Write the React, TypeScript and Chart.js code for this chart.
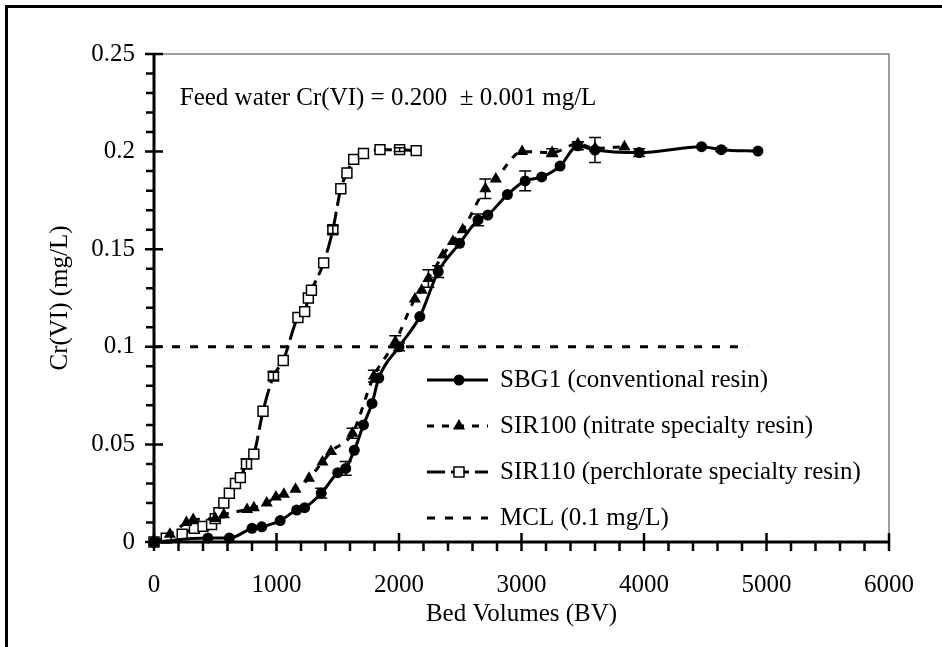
import React, { useEffect, useRef } from "react";
import { Chart, registerables } from "chart.js";

Chart.register(...registerables);

const FONT = '"Liberation Serif", "Times New Roman", serif';

// SBG1 (conventional resin)
const sbg1BV = [0, 440, 615, 800, 880, 1030, 1165, 1230, 1365, 1500, 1565, 1635, 1710, 1780, 1835, 2000, 2170, 2320, 2495, 2645, 2725, 2885, 3030, 3165, 3315, 3460, 3600, 3960, 4470, 4630, 4930];
const sbg1Cr = [0, 0.002, 0.002, 0.007, 0.0078, 0.011, 0.0164, 0.0176, 0.025, 0.0355, 0.0377, 0.047, 0.06, 0.071, 0.084, 0.1, 0.1155, 0.1385, 0.153, 0.165, 0.1675, 0.178, 0.185, 0.187, 0.1926, 0.203, 0.2008, 0.1995, 0.2025, 0.201, 0.2003];
const sbg1Err = [0, 0, 0, 0, 0, 0, 0, 0, 0.0025, 0, 0.0035, 0, 0, 0, 0, 0.002, 0, 0.003, 0, 0.003, 0, 0, 0.005, 0, 0, 0.002, 0.0064, 0.002, 0, 0.001, 0];

// SIR100 (nitrate specialty resin)
const sir100BV = [0, 130, 265, 320, 500, 570, 760, 815, 920, 995, 1060, 1155, 1265, 1375, 1445, 1620, 1795, 1970, 2130, 2185, 2240, 2360, 2440, 2520, 2705, 2790, 3005, 3250, 3460, 3600, 3840];
const sir100Cr = [0, 0.004, 0.01, 0.0115, 0.012, 0.014, 0.0167, 0.0176, 0.02, 0.023, 0.0244, 0.027, 0.0326, 0.041, 0.0463, 0.0557, 0.085, 0.1026, 0.1245, 0.129, 0.135, 0.147, 0.154, 0.16, 0.181, 0.186, 0.2, 0.1995, 0.204, 0.2017, 0.2025];
const sir100Err = [0, 0, 0, 0, 0, 0, 0, 0, 0, 0, 0, 0, 0, 0, 0, 0.0026, 0.003, 0.003, 0, 0, 0.0045, 0, 0, 0, 0.005, 0, 0, 0.002, 0.001, 0, 0];

// SIR110 (perchlorate specialty resin)
const sir110BV = [0, 100, 230, 330, 400, 470, 500, 530, 570, 615, 665, 705, 755, 815, 890, 975, 1055, 1175, 1230, 1260, 1285, 1385, 1460, 1525, 1575, 1630, 1710, 1845, 2005, 2140];
const sir110Cr = [0, 0.002, 0.004, 0.007, 0.008, 0.009, 0.012, 0.015, 0.02, 0.025, 0.03, 0.033, 0.04, 0.045, 0.067, 0.085, 0.093, 0.115, 0.118, 0.125, 0.129, 0.143, 0.16, 0.181, 0.189, 0.196, 0.199, 0.201, 0.201, 0.2005];
const sir110Err = [0, 0, 0, 0, 0, 0, 0, 0, 0, 0, 0, 0, 0.0025, 0, 0, 0.002, 0, 0, 0, 0, 0, 0, 0.002, 0, 0, 0, 0, 0, 0.001, 0];

// MCL line
const mclBV = [0, 4850];
const mclCr = [0.1, 0.1];

const xTicks = [0, 1000, 2000, 3000, 4000, 5000, 6000];
const yTicks = [0, 0.05, 0.1, 0.15, 0.2, 0.25];
const xMinorStep = 200;
const yMinorStep = 0.01;

const seriesLabels = [
  "SBG1 (conventional resin)",
  "SIR100 (nitrate specialty resin)",
  "SIR110 (perchlorate specialty resin)",
  "MCL (0.1 mg/L)",
];
const annotationText = "Feed water Cr(VI) = 0.200  \u00b1 0.001 mg/L";
const xTitle = "Bed Volumes (BV)";
const yTitle = "Cr(VI) (mg/L)";

const pts = (xs: number[], ys: number[]) => xs.map((x, i) => ({ x, y: ys[i] }));

function drawMarker(ctx: CanvasRenderingContext2D, style: string, x: number, y: number) {
  ctx.save();
  ctx.setLineDash([]);
  ctx.beginPath();
  if (style === "circle") {
    ctx.arc(x, y, 5.5, 0, Math.PI * 2);
    ctx.fillStyle = "#000";
    ctx.fill();
  } else if (style === "triangle") {
    const r = 7;
    ctx.moveTo(x, y - r);
    ctx.lineTo(x + r * 0.866, y + r / 2);
    ctx.lineTo(x - r * 0.866, y + r / 2);
    ctx.closePath();
    ctx.fillStyle = "#000";
    ctx.fill();
  } else if (style === "rect") {
    ctx.rect(x - 5, y - 5, 10, 10);
    ctx.fillStyle = "#fff";
    ctx.fill();
    ctx.lineWidth = 1.5;
    ctx.strokeStyle = "#000";
    ctx.stroke();
  }
  ctx.restore();
}

const frameAndTicks = {
  id: "frameAndTicks",
  beforeDatasetsDraw(chart: any) {
    const { ctx, chartArea: a } = chart;
    ctx.save();
    ctx.strokeStyle = "#808080";
    ctx.lineWidth = 1.5;
    ctx.beginPath();
    ctx.moveTo(a.left, a.top);
    ctx.lineTo(a.right, a.top);
    ctx.lineTo(a.right, a.bottom);
    ctx.stroke();
    ctx.restore();
  },
  afterDatasetsDraw(chart: any) {
    const { ctx, chartArea: a, scales } = chart;
    const xs = scales.x, ys = scales.y;
    // error bars
    ctx.save();
    ctx.strokeStyle = "#000";
    ctx.lineWidth = 1.5;
    ctx.setLineDash([]);
    chart.data.datasets.forEach((ds: any) => {
      if (!ds.errors) return;
      ds.data.forEach((p: any, i: number) => {
        const e = ds.errors[i];
        if (!e) return;
        const px = xs.getPixelForValue(p.x);
        const y1 = ys.getPixelForValue(p.y + e);
        const y2 = ys.getPixelForValue(p.y - e);
        ctx.beginPath();
        ctx.moveTo(px, y1);
        ctx.lineTo(px, y2);
        ctx.moveTo(px - 6, y1);
        ctx.lineTo(px + 6, y1);
        ctx.moveTo(px - 6, y2);
        ctx.lineTo(px + 6, y2);
        ctx.stroke();
      });
    });
    ctx.restore();

    // axes
    ctx.save();
    ctx.strokeStyle = "#000";
    ctx.lineWidth = 3;
    ctx.beginPath();
    ctx.moveTo(a.left, a.top - 1);
    ctx.lineTo(a.left, a.bottom + 1);
    ctx.moveTo(a.left - 1, a.bottom);
    ctx.lineTo(a.right + 1, a.bottom);
    ctx.stroke();
    ctx.lineWidth = 2.5;
    ctx.beginPath();
    const yMax = yTicks[yTicks.length - 1];
    for (let k = 0; k <= Math.round(yMax / yMinorStep); k++) {
      const v = k * yMinorStep;
      const py = ys.getPixelForValue(v);
      const major = yTicks.some((t) => Math.abs(t - v) < 1e-9);
      ctx.moveTo(a.left - (major ? 9 : 8), py);
      ctx.lineTo(a.left + (major ? 9 : 0), py);
    }
    const xMax = xTicks[xTicks.length - 1];
    for (let k = 0; k <= Math.round(xMax / xMinorStep); k++) {
      const v = k * xMinorStep;
      const px = xs.getPixelForValue(v);
      const major = xTicks.includes(v);
      ctx.moveTo(px, a.bottom - (major ? 9 : 0));
      ctx.lineTo(px, a.bottom + 9);
    }
    ctx.stroke();
    ctx.restore();
  },
  afterDraw(chart: any) {
    const { ctx, scales } = chart;
    ctx.save();
    ctx.fillStyle = "#000";
    ctx.font = `25px ${FONT}`;
    ctx.textBaseline = "middle";
    ctx.textAlign = "left";
    // annotation
    ctx.fillText(annotationText, scales.x.getPixelForValue(210), scales.y.getPixelForValue(0.227));
    // legend
    const styles = [
      { dash: [] as number[], marker: "circle" },
      { dash: [7, 8], marker: "triangle" },
      { dash: [18, 6], marker: "rect" },
      { dash: [8, 10], marker: "" },
    ];
    const rows = [380, 426, 472, 518];
    seriesLabels.forEach((label, i) => {
      const y = rows[i];
      ctx.save();
      ctx.strokeStyle = "#000";
      ctx.lineWidth = 3;
      ctx.setLineDash(styles[i].dash);
      ctx.beginPath();
      ctx.moveTo(427, y);
      ctx.lineTo(488, y);
      ctx.stroke();
      ctx.restore();
      if (styles[i].marker) drawMarker(ctx, styles[i].marker, 459, y);
      ctx.fillText(label, 500, y);
    });
    ctx.restore();
  },
};

export default function App() {
  const ref = useRef<HTMLCanvasElement>(null);
  useEffect(() => {
    if (!ref.current) return;
    const chart = new Chart(ref.current, {
      type: "scatter",
      data: {
        datasets: [
          {
            label: seriesLabels[0],
            data: pts(sbg1BV, sbg1Cr),
            errors: sbg1Err,
            showLine: true,
            borderColor: "#000",
            borderWidth: 3,
            cubicInterpolationMode: "monotone",
            pointStyle: "circle",
            pointRadius: 5.5,
            pointBackgroundColor: "#000",
            pointBorderColor: "#000",
            pointBorderWidth: 0,
            clip: false,
          } as any,
          {
            label: seriesLabels[1],
            data: pts(sir100BV, sir100Cr),
            errors: sir100Err,
            showLine: true,
            borderColor: "#000",
            borderWidth: 3,
            borderDash: [7, 8],
            cubicInterpolationMode: "monotone",
            pointStyle: "triangle",
            pointRadius: 7,
            pointBackgroundColor: "#000",
            pointBorderColor: "#000",
            pointBorderWidth: 0,
            clip: false,
          } as any,
          {
            label: seriesLabels[2],
            data: pts(sir110BV, sir110Cr),
            errors: sir110Err,
            showLine: true,
            borderColor: "#000",
            borderWidth: 3,
            borderDash: [18, 6],
            cubicInterpolationMode: "monotone",
            pointStyle: "rect",
            pointRadius: 7,
            pointBackgroundColor: "#fff",
            pointBorderColor: "#000",
            pointBorderWidth: 1.5,
            clip: false,
          } as any,
          {
            label: seriesLabels[3],
            data: pts(mclBV, mclCr),
            showLine: true,
            borderColor: "#000",
            borderWidth: 3,
            borderDash: [8, 10],
            pointRadius: 0,
            clip: false,
          } as any,
        ],
      },
      options: {
        animation: false,
        responsive: false,
        devicePixelRatio: 1,
        layout: { padding: { top: 54, right: 44, left: 0, bottom: 0 } },
        plugins: { legend: { display: false }, tooltip: { enabled: false } },
        scales: {
          x: {
            type: "linear",
            min: xTicks[0],
            max: xTicks[xTicks.length - 1],
            afterBuildTicks: (s: any) => { s.ticks = xTicks.map((v) => ({ value: v })); },
            afterFit: (s: any) => { s.height = 105; },
            grid: { display: false, drawTicks: false },
            border: { display: false },
            ticks: {
              autoSkip: false,
              maxRotation: 0,
              padding: 28,
              color: "#000",
              font: { family: FONT, size: 25 },
              callback: (v: any) => String(v),
            },
            title: {
              display: true,
              text: xTitle,
              color: "#000",
              font: { family: FONT, size: 25 },
              padding: { top: 0, bottom: 18 },
            },
          },
          y: {
            type: "linear",
            min: yTicks[0],
            max: yTicks[yTicks.length - 1],
            afterBuildTicks: (s: any) => { s.ticks = yTicks.map((v) => ({ value: v })); },
            afterFit: (s: any) => { s.width = 154; },
            grid: { display: false, drawTicks: false },
            border: { display: false },
            ticks: {
              autoSkip: false,
              padding: 19,
              color: "#000",
              font: { family: FONT, size: 25 },
              callback: (v: any) => String(Math.round(v * 100) / 100),
            },
            title: {
              display: true,
              text: yTitle,
              color: "#000",
              font: { family: FONT, size: 25 },
              padding: { top: 45, bottom: 0 },
            },
          },
        },
      },
      plugins: [frameAndTicks],
    } as any);
    return () => chart.destroy();
  }, []);

  return (
    <div style={{ position: "fixed", left: 0, top: 0, width: 942, height: 647, background: "#fff", overflow: "hidden" }}>
      <canvas ref={ref} width={942} height={647} style={{ display: "block", width: 942, height: 647 }} />
      <div
        style={{
          position: "absolute",
          left: 5,
          top: 5,
          width: 1200,
          height: 1200,
          borderLeft: "3px solid #000",
          borderTop: "3px solid #000",
          pointerEvents: "none",
        }}
      />
    </div>
  );
}
